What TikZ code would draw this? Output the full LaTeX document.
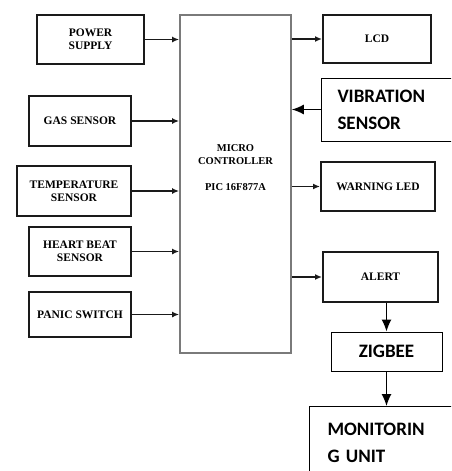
\documentclass[tikz,border=0pt]{standalone}
\usepackage{fontspec}
\setmainfont{Liberation Serif}
\newfontfamily\calibri{Carlito}
\usetikzlibrary{arrows.meta}
\definecolor{cdark}{HTML}{1A1A1A}
\definecolor{cgrey}{HTML}{7A7A7A}
\tikzset{
  blk/.style={draw=cdark, line width=2pt, align=center, inner sep=2pt, font=\fontsize{11.5}{13}\selectfont\bfseries},
  mcubox/.style={draw=cgrey, line width=1.8pt, minimum width=111pt, minimum height=338pt},
  sbox/.style={draw=black, line width=1pt, font=\calibri\bfseries\fontsize{19}{27}\selectfont},
  link/.style={-{Latex[length=7pt,width=6pt]}, draw=cdark, line width=1.4pt},
  bigarrow/.style={-{Latex[length=12pt,width=10pt]}, draw=black, line width=1.2pt},
}

\begin{document}
\begin{tikzpicture}[x=1pt,y=-1pt]
  \useasboundingbox (0,0) rectangle (451,471);
  \clip (0,0) rectangle (451,471);
  % inputs
  \node[blk, minimum width=107pt, minimum height=49pt] (pwr) at (90.5,39.5) {POWER\\SUPPLY};
  \node[blk, minimum width=102pt, minimum height=50pt] (gas) at (80,121) {GAS SENSOR};
  \node[blk, minimum width=114pt, minimum height=50pt] (temp) at (74,191) {TEMPERATURE\\SENSOR};
  \node[blk, minimum width=102pt, minimum height=49pt] (heart) at (80,251.5) {HEART BEAT\\SENSOR};
  \node[blk, minimum width=102pt, minimum height=45pt] (panic) at (80,314.5) {PANIC SWITCH};
  % controller
  \node[mcubox] (mcu) at (235.5,184) {};
  \node[font=\fontsize{10.5}{13}\selectfont\bfseries, align=center] (mcutxt) at (235.5,168) {MICRO\\CONTROLLER\\[13pt]PIC 16F877A};
  % outputs
  \node[blk, minimum width=108pt, minimum height=48pt] (lcd) at (377,39) {LCD};
  \node[sbox, anchor=west, text width=116pt, inner xsep=16pt, minimum height=63pt, align=left] (vib) at (321,109.5) {VIBRATION\\SENSOR};
  \node[blk, minimum width=114pt, minimum height=49pt] (led) at (378,186.5) {WARNING LED};
  \node[blk, minimum width=115pt, minimum height=50pt] (alert) at (380.5,277) {ALERT};
  \node[sbox, minimum width=111pt, minimum height=39pt] (zig) at (386.5,351.5) {ZIGBEE};
  \node[sbox, anchor=north west, text width=120pt, inner xsep=18pt, inner ysep=4pt, minimum height=72pt, align=left] (mon) at (309,406) {MONITORIN\\G UNIT};
  % connectors
  \foreach \src in {pwr,gas,temp,heart,panic}
    \draw[link] (\src.east) -- (\src.east -| mcu.west);
  \foreach \dst in {lcd,led,alert}
    \draw[link] (\dst.west -| mcu.east) -- (\dst.west);
  \draw[bigarrow] (vib.west) -- (vib.west -| mcu.east);
  \draw[bigarrow] (alert.south -| zig.north) -- (zig.north);
  \draw[bigarrow] (zig.south) -- (zig.south |- mon.north);
\end{tikzpicture}
\end{document}
